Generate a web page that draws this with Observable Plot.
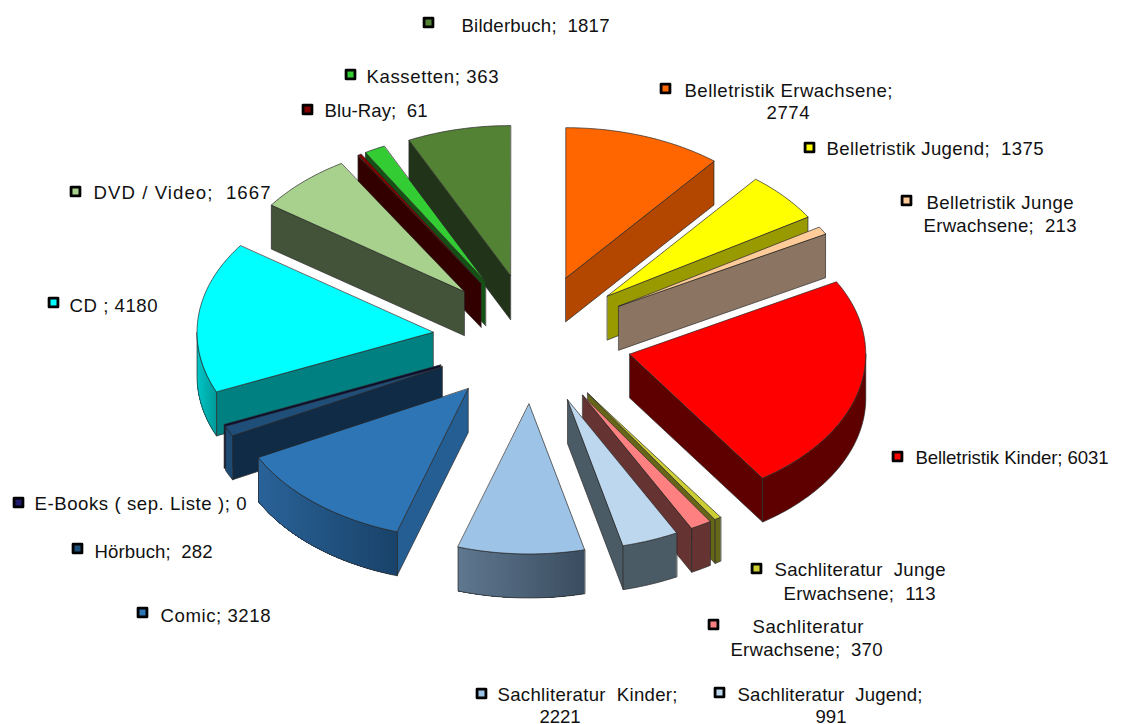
<!DOCTYPE html>
<html><head><meta charset="utf-8">
<script src="https://cdn.jsdelivr.net/npm/d3@7"></script>
<script src="https://cdn.jsdelivr.net/npm/@observablehq/plot@0.6"></script>
<style>
html,body{margin:0;padding:0;background:#fff}
svg{display:block}
svg text{white-space:pre}
</style></head><body><div id="chart"></div>
<script>
const categories = ["Belletristik Erwachsene","Belletristik Jugend","Belletristik Junge Erwachsene","Belletristik Kinder","Sachliteratur Junge Erwachsene","Sachliteratur Erwachsene","Sachliteratur Jugend","Sachliteratur Kinder","Comic","Hörbuch","E-Books ( sep. Liste )","CD","DVD / Video","Blu-Ray","Kassetten","Bilderbuch"];
const values = [2774,1375,213,6031,113,370,991,2221,3218,282,0,4180,1667,61,363,1817];
const topColors  = ["#ff6600","#ffff00","#ffcc99","#ff0000","#cccc33","#ff8080","#bdd7ee","#9dc3e6","#2e75b6","#1f4e79","#1f1a6e","#00ffff","#a9d18e","#800000","#33cc33","#548235"];
const wallColors = ["#b34700","#999900","#8c7462","#5e0000","#666619","#663333","#4b5b66","#4b5b66","#255e92","#102b45","#0a0a30","#008080","#435339","#330000","#145214","#21341a"];
const outerFrom  = ["#b34700","#999900","#8c7462","#5e0000","#666619","#663333","#4b5b66","#5f7890","#2a6399","#1c4a72","#0a0a30","#00c8c8","#435339","#330000","#145214","#21341a"];
const outerTo    = ["#b34700","#999900","#8c7462","#5e0000","#666619","#663333","#4b5b66","#3b4d60","#19436a","#1c4a72","#0a0a30","#009a9a","#435339","#330000","#145214","#21341a"];

// pie geometry in the picture's tilted view
const cx = 532, cy = 338.5, rx = 236, ry = 150, depth = 44, explodeX = 100, explodeY = 65;

// labels: text lines with their placement and drawn width
const labelLines = [
  ["Bilderbuch;  1817",461,26,148],["Kassetten; 363",366,77,132],["Blu-Ray;  61",324,111,103],
  ["Belletristik Erwachsene;",684,91,208],["2774",766,113,43],["Belletristik Jugend;  1375",826,149,217],
  ["Belletristik Junge",926,203,147],["Erwachsene;  213",923,226,153],["Belletristik Kinder; 6031",915,458,193],
  ["Sachliteratur  Junge",774,570,171],["Erwachsene;  113",783,594,152],["Sachliteratur",752,627,111],
  ["Erwachsene;  370",730,650,152],["Sachliteratur  Kinder;",497,695,180],["2221",539,717,41],
  ["Sachliteratur  Jugend;",737,695,185],["991",815,717,31],["Comic; 3218",160,616,110],
  ["Hörbuch;  282",94,552,118],["E-Books ( sep. Liste ); 0",34,504,212],["CD ; 4180",69,306,88],
  ["DVD / Video;  1667",93,193,177]
];
const keyPlaces = [[665,88],[809,147],[906,200],[897,456],[756,568],[713,624],[719,692],[481,693],[142,612],[77,548],[18,502],[53,302],[75,191],[307,109],[350,74],[428,22]];

const total = d3.sum(values);
const toAngle = v => v / total * 2 * Math.PI;
let run = 0;
const slices = values.map((v, i) => {
  const a0 = toAngle(run); run += v; const a1 = toAngle(run);
  const mid = (a0 + a1) / 2;
  return {i, a0, a1, mid, ax: cx + explodeX * Math.sin(mid), ay: cy - explodeY * Math.cos(mid)};
});
const rim = (s, a, z = 0) => [s.ax + rx * Math.sin(a), s.ay - ry * Math.cos(a) + z];

const rows = [];
let face = 0;
const edge = "#2a2a2a";
function poly(points, fill, stroke, sw) {
  face++;
  for (const [x, y] of points) rows.push({face, x, y, fill, stroke, sw});
}
function arcPts(s, a, b, z, n) {
  return d3.range(n + 1).map(k => rim(s, a + (b - a) * k / n, z));
}
const order = [...slices].sort((p, q) => Math.cos(q.mid) - Math.cos(p.mid));
for (const s of order) {
  const wall = wallColors[s.i], apex = [s.ax, s.ay], apexLow = [s.ax, s.ay + depth];
  const p0 = rim(s, s.a0), p0l = rim(s, s.a0, depth), p1 = rim(s, s.a1), p1l = rim(s, s.a1, depth);
  if (-Math.sin(s.a0) > 0) poly([apex, p0, p0l, apexLow], wall, edge, 0.7);
  if (Math.sin(s.a1) > 0) poly([apex, p1, p1l, apexLow], wall, edge, 0.7);
  const lo = Math.max(s.a0, Math.PI / 2), hi = Math.min(s.a1, 3 * Math.PI / 2);
  if (hi > lo) {
    const n = Math.max(4, Math.ceil((hi - lo) / 0.02));
    const whole = (a) => [...arcPts(s, a, hi, 0, n), ...arcPts(s, hi, a, depth, n)];
    if (outerFrom[s.i] !== outerTo[s.i]) {
      // each band repaints from its own start to the far end, so no seams show
      const mix = d3.interpolateRgb(outerFrom[s.i], outerTo[s.i]);
      const [xmin, xmax] = d3.extent([rim(s, lo)[0], rim(s, hi)[0]]);
      const bands = 48;
      for (let k = 0; k < bands; k++) {
        const a = lo + (hi - lo) * k / bands;
        const t = (rim(s, a)[0] - xmin) / (xmax - xmin);
        poly(whole(a), d3.rgb(mix(t)).formatHex(), "none", 0);
      }
    } else {
      poly(whole(lo), outerFrom[s.i], "none", 0);
    }
    poly(whole(lo), "none", edge, 0.7);
  }
  if (s.a1 > s.a0) {
    const n = Math.max(2, Math.ceil((s.a1 - s.a0) / 0.02));
    poly([apex, ...arcPts(s, s.a0, s.a1, 0, n)], topColors[s.i], edge, 0.7);
  }
}

const keys = keyPlaces.map(([x, y], i) => ({x, y, fill: topColors[i]}));
const labels = labelLines.map(([text, x, y]) => ({text, x, y}));

const chart = Plot.plot({
  width: 1123, height: 724, margin: 0,
  x: {domain: [0, 1123], range: [0, 1123], axis: null},
  y: {domain: [0, 724], range: [0, 724], axis: null},
  color: {type: "identity"},
  style: {background: "#fff"},
  marks: [
    Plot.line(rows, {x: "x", y: "y", z: "face", fill: "fill", stroke: "stroke", strokeWidth: "sw", curve: "linear-closed", strokeLinejoin: "round"}),
    Plot.dot(keys, {x: "x", y: "y", symbol: "square", r: 5, fill: "fill", stroke: "#000", strokeWidth: 2.8, strokeLinejoin: "round"}),
    Plot.text(labels, {x: "x", y: "y", text: "text", textAnchor: "start", lineAnchor: "middle", fontFamily: "Liberation Sans", fontSize: 18.6, fill: "#111"})
  ]
});
chart.querySelectorAll("text").forEach((node) => {
  const line = labelLines.find(l => l[0] === node.textContent);
  if (line) { node.setAttribute("textLength", line[3]); node.setAttribute("lengthAdjust", "spacing"); }
});
document.getElementById("chart").append(chart);
</script></body></html>
